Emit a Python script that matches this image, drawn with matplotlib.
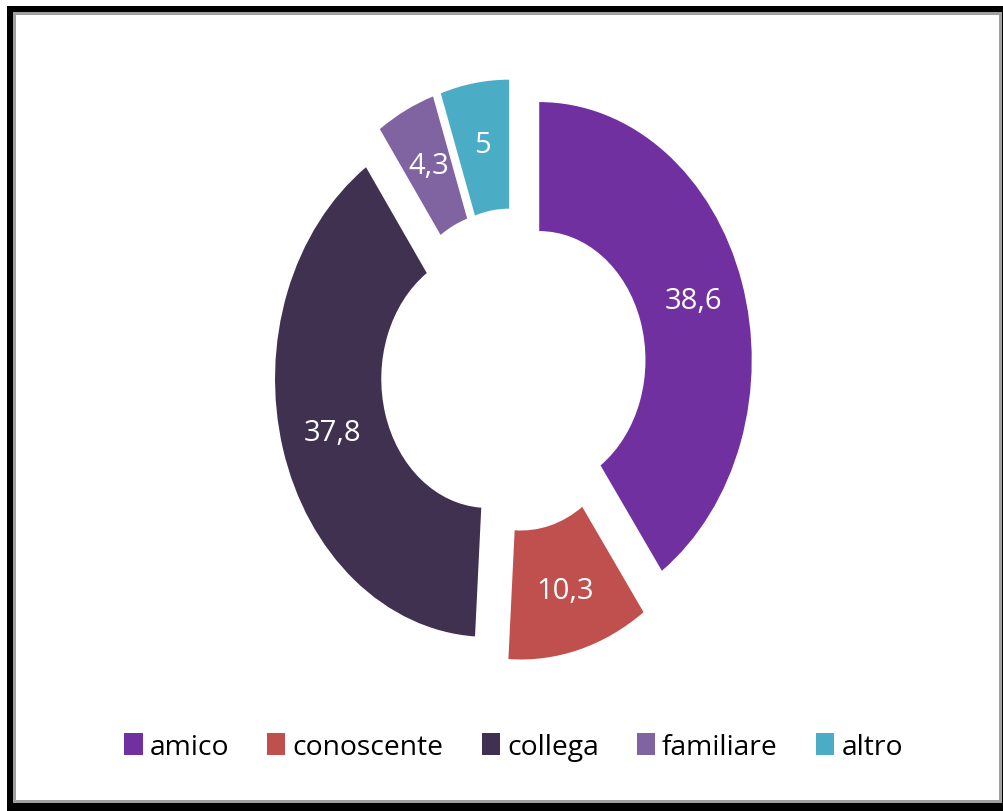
import matplotlib
matplotlib.use('Agg')
import matplotlib.pyplot as plt
from matplotlib.patches import Rectangle
import numpy as np

# Data
categories = ['amico', 'conoscente', 'collega', 'familiare', 'altro']
values = [38.6, 10.3, 37.8, 4.3, 5]
value_labels = ['38,6', '10,3', '37,8', '4,3', '5']
colors = ['#7030A0', '#C0504D', '#403151', '#8064A2', '#4BACC6']

plt.rcParams['font.family'] = ['Open Sans', 'DejaVu Sans']

W, H = 1004, 812
fig = plt.figure(figsize=(W / 100, H / 100), dpi=100, facecolor='white')

# chart frame: black shadow, grey border, white plot area
def px_rect(x0, y0, x1, y1, **kw):
    return Rectangle((x0 / W, 1 - y1 / H), (x1 - x0) / W, (y1 - y0) / H,
                     transform=fig.transFigure, **kw)

fig.patches.append(px_rect(7, 7, 1004, 812, facecolor='black', edgecolor='none', zorder=-3))
fig.patches.append(px_rect(13, 13, 1002, 804, facecolor='#A0A0A0', edgecolor='none', zorder=-2))
fig.patches.append(px_rect(16, 16, 999, 801, facecolor='white', edgecolor='none', zorder=-1))

# donut, stretched vertically
cx, cy, rx, ry = 513.5, 371, 212.5, 258
lim = 1.3
ax = fig.add_axes([(cx - lim * rx) / W, (H - cy - lim * ry) / H,
                   2 * lim * rx / W, 2 * lim * ry / H], zorder=1)
ax.patch.set_alpha(0)

wedges, _ = ax.pie(values, colors=colors, startangle=90, counterclock=False,
                   explode=[0.127] * len(values), radius=1,
                   wedgeprops=dict(width=0.5, edgecolor='none'))
ax.set_aspect('auto')
ax.set_xlim(-lim, lim)
ax.set_ylim(-lim, lim)
ax.axis('off')

for w, lab in zip(wedges, value_labels):
    ang = np.deg2rad((w.theta1 + w.theta2) / 2)
    x = w.center[0] + 0.76 * np.cos(ang)
    y = w.center[1] + 0.76 * np.sin(ang)
    ax.text(x, y, lab, ha='center', va='center', color='white', fontsize=21)

leg = fig.legend(wedges, categories, loc='center', bbox_to_anchor=(cx / W, 1 - 748 / H),
                 ncol=5, frameon=False, fontsize=20.3, handlelength=0.65, handleheight=0.8,
                 handletextpad=0.25, columnspacing=1.35)
leg.set_zorder(2)

fig.savefig('out.png', dpi=100, facecolor='white')
